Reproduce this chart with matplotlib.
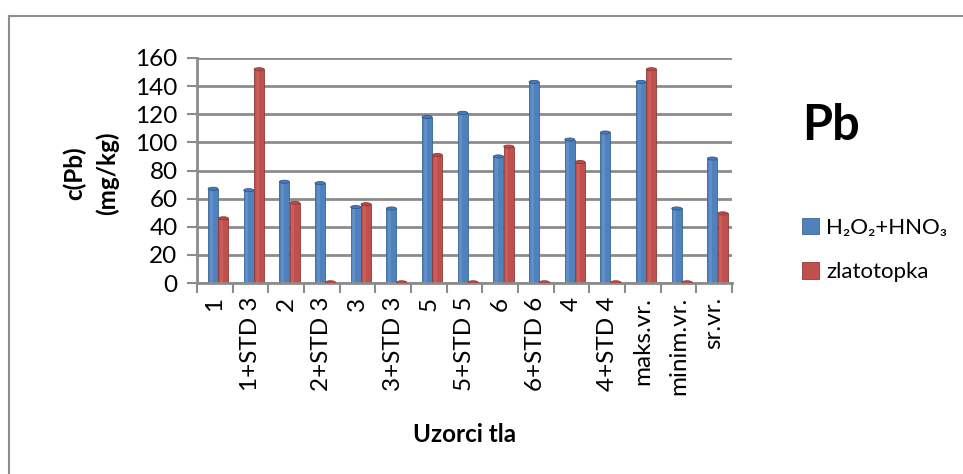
import matplotlib
matplotlib.use("Agg")
import matplotlib.pyplot as plt
from matplotlib.patches import Ellipse
from matplotlib.lines import Line2D
import numpy as np

plt.rcParams['font.family'] = ['Lato', 'DejaVu Sans']

categories = ["1", "1+STD 3", "2", "2+STD 3", "3", "3+STD 3", "5", "5+STD 5",
              "6", "6+STD 6", "4", "4+STD 4", "maks.vr.", "minim.vr.", "sr.vr."]
h2o2_hno3 = [67, 66, 72, 71, 54, 53, 118, 121, 90, 143, 102, 107, 143, 53, 88.5]
zlatotopka = [46, 152, 57, 0.5, 56, 0.5, 91, 0.5, 97, 0.5, 86, 0.5, 152, 0.5, 49.5]
series_names = ["H\u2082O\u2082+HNO\u2083", "zlatotopka"]
yticks = [0, 20, 40, 60, 80, 100, 120, 140, 160]

blue = "#4F81BD"
red = "#C0504D"
grid_c = "#8C8C8C"

fig = plt.figure(figsize=(9.63, 4.74), dpi=100)
ax = fig.add_axes([197 / 963, 1 - 283 / 474, 535 / 963, 225 / 474])

x = np.arange(len(categories))
w = 0.28
xb = x - 0.05
xr = x + 0.24

for yv in yticks:
    ax.axhline(yv, color=grid_c, lw=2, zorder=0)

bb = ax.bar(xb, h2o2_hno3, w, color=blue, edgecolor="#3A6595", linewidth=0.6, zorder=2)
br = ax.bar(xr, zlatotopka, w, color=red, edgecolor="#8E3A38", linewidth=0.6, zorder=2)
# cylinder shading
ax.bar(xb - w * 0.18, h2o2_hno3, w * 0.3, color="#6D9AD3", alpha=0.55, linewidth=0, zorder=3)
ax.bar(xr - w * 0.18, zlatotopka, w * 0.3, color="#D46B68", alpha=0.55, linewidth=0, zorder=3)
for xs, vals, fc, ec in [(xb, h2o2_hno3, "#4A7AB5", "#2F5A8C"), (xr, zlatotopka, "#B84B48", "#8E3A38")]:
    for xi, v in zip(xs, vals):
        ax.add_patch(Ellipse((xi, v), w, 2.2, facecolor=fc, edgecolor=ec, lw=0.6, zorder=4))

ax.set_xlim(-0.5, len(categories) - 0.5)
ax.set_ylim(0, 160)
ax.set_yticks(yticks)
ax.set_yticklabels([str(v) for v in yticks], fontsize=17.5)
ax.set_xticks(x)
ax.set_xticklabels(categories, rotation=90, fontsize=17.5)
ax.set_xticks(np.arange(-0.5, len(categories)), minor=True)
ax.tick_params(axis='x', which='major', length=0, pad=10)
ax.tick_params(axis='x', which='minor', length=7, width=1.5, color=grid_c)
ax.tick_params(axis='y', length=7, width=1.5, color=grid_c, pad=7)

for s in ["top", "right"]:
    ax.spines[s].set_visible(False)
ax.spines["left"].set_color(grid_c)
ax.spines["left"].set_linewidth(2)
ax.spines["bottom"].set_color(grid_c)
ax.spines["bottom"].set_linewidth(2)

ax.set_xlabel("Uzorci tla", fontsize=17.5, fontweight="bold", labelpad=20)
fig.text(75 / 963, 1 - 173 / 474, "c(Pb)", rotation=90, fontsize=17.5, fontweight="bold",
         ha="center", va="center")
fig.text(107 / 963, 1 - 173 / 474, "(mg/kg)", rotation=90, fontsize=17.5, fontweight="bold",
         ha="center", va="center")
fig.text(831 / 963, 1 - 125 / 474, "Pb", fontsize=35, fontweight="bold", ha="center", va="center")

leg = fig.legend([bb, br], series_names, loc="center left", bbox_to_anchor=(782 / 963, 1 - 250 / 474),
                 frameon=False, fontsize=16, handlelength=0.75, handleheight=0.75,
                 handletextpad=0.35, labelspacing=1.1)

fig.add_artist(Line2D([8.5 / 963, 8.5 / 963], [0, 1 - 15.5 / 474], color=grid_c, lw=1.5))
fig.add_artist(Line2D([8.5 / 963, 1], [1 - 15.5 / 474, 1 - 15.5 / 474], color=grid_c, lw=1.5))

fig.savefig("out.png", dpi=100)
